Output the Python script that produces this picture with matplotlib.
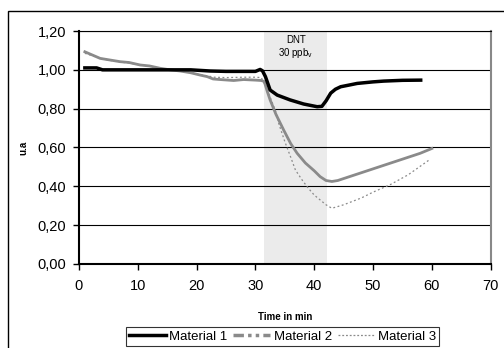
import numpy as np
import matplotlib.pyplot as plt
from matplotlib.patches import Rectangle
from matplotlib.lines import Line2D
from matplotlib.ticker import FuncFormatter

plt.rcParams['font.family'] = ['Liberation Sans', 'DejaVu Sans']

# Daten
t1 = [1, 2, 3, 4, 6, 10, 15, 19, 22.3, 25, 28, 30, 30.8, 31.2, 31.7, 32.5, 33.7,
      35.9, 38.2, 40.5, 41.3, 42.0, 42.8, 43.6, 44.5, 46, 47.3, 50, 51.8, 55, 58.1]
m1 = [1.01, 1.01, 1.01, 1.00, 1.00, 1.00, 1.00, 1.00, 0.994, 0.992, 0.992, 0.992,
      1.002, 0.995, 0.965, 0.896, 0.87, 0.845, 0.824, 0.81, 0.812, 0.84, 0.88,
      0.90, 0.913, 0.922, 0.93, 0.938, 0.942, 0.946, 0.947]

t2 = [1, 3.6, 5, 7, 8.5, 10.4, 12, 13.8, 15.5, 17.2, 19, 20.6, 21.8, 22.8, 24,
      26.3, 28, 30, 31, 31.5, 32, 32.5, 33.5, 34.8, 36, 37.1, 38.5, 40, 41, 42, 43,
      44, 46, 48, 50, 52, 55, 58, 60]
m2 = [1.093, 1.059, 1.052, 1.042, 1.038, 1.025, 1.02, 1.008, 1.0, 0.994, 0.985,
      0.973, 0.965, 0.953, 0.95, 0.945, 0.95, 0.947, 0.945, 0.94, 0.89, 0.845,
      0.77, 0.69, 0.62, 0.57, 0.52, 0.48, 0.45, 0.43, 0.425, 0.43, 0.45, 0.47,
      0.49, 0.51, 0.54, 0.57, 0.595]

t3 = [1, 3.6, 5, 7, 8.5, 10.4, 12, 13.8, 15.5, 17.2, 19, 20.6, 22, 23, 25, 28,
      30, 31, 31.5, 32, 33, 33.4, 34, 35, 36, 36.8, 38, 39, 40, 41, 42, 43, 45,
      48, 50, 53, 56, 59.5]
m3 = [1.085, 1.06, 1.05, 1.04, 1.035, 1.025, 1.018, 1.008, 1.0, 0.994, 0.985,
      0.975, 0.968, 0.962, 0.96, 0.962, 0.962, 0.96, 0.93, 0.9, 0.82, 0.79,
      0.72, 0.63, 0.55, 0.484, 0.43, 0.39, 0.355, 0.33, 0.305, 0.287, 0.305,
      0.34, 0.37, 0.41, 0.46, 0.535]

dnt_start, dnt_end = 31.5, 42.2

fig = plt.figure(figsize=(5.04, 3.48), dpi=100)
ax = fig.add_axes([0.1567, 0.2414, 0.8169, 0.6695])

# Aeusserer Rahmen
fig.add_artist(Rectangle((8 / 504, -0.1), 1.2, 1.1 - 11 / 348,
                         transform=fig.transFigure, fill=False,
                         edgecolor='black', linewidth=1.0))

# DNT-Bereich
ax.axvspan(dnt_start, dnt_end, color='#ebebeb', zorder=0, lw=0)
ax.text((dnt_start + dnt_end) / 2, 1.153, 'DNT', ha='center', va='center', fontsize=7)
ax.text((dnt_start + dnt_end) / 2, 1.087, '30 ppb$_\\mathregular{v}$',
        ha='center', va='center', fontsize=7)

# Gitterlinien
for yv in np.arange(0.2, 1.21, 0.2):
    ax.axhline(yv, color='black', lw=0.8, zorder=1)

ax.plot(t1, m1, color='black', lw=2.5, label='Material 1', zorder=4)
ax.plot(t2, m2, color='#8a8a8a', lw=2.0, label='Material 2', zorder=3)
ax.plot(t3, m3, color='#8a8a8a', lw=0.9, ls=(0, (1.5, 2)), label='Material 3', zorder=3)

ax.set_xlim(0, 70)
ax.set_ylim(0, 1.2)
ax.set_xticks(range(0, 71, 10))
ax.set_yticks(np.arange(0, 1.21, 0.2))
ax.yaxis.set_major_formatter(FuncFormatter(lambda v, p: f'{v:.2f}'.replace('.', ',')))
ax.tick_params(axis='both', labelsize=10.5, length=4, width=1, direction='out')
ax.tick_params(axis='x', pad=7)
ax.tick_params(axis='y', pad=5)

ax.spines['left'].set_linewidth(1.5)
ax.spines['bottom'].set_linewidth(1.5)
ax.spines['right'].set_color('#888888')
ax.spines['right'].set_linewidth(1.5)
ax.spines['top'].set_linewidth(0.8)

ax.set_xlabel('Time in min', fontsize=7, fontweight='bold')
ax.xaxis.set_label_coords(0.5, -0.205)
ax.set_ylabel('u.a', fontsize=7, fontweight='bold')
ax.yaxis.set_label_coords(-0.122, 0.5)

# Legende
handles = [Line2D([], [], color='black', lw=2.5),
           Line2D([], [], color='#8a8a8a', lw=2.5, dashes=(3, 1.2, 1, 1.2, 1, 1.2)),
           Line2D([], [], color='#8a8a8a', lw=0.9, ls=(0, (1.5, 1.5)))]
leg = fig.legend(handles, ['Material 1', 'Material 2', 'Material 3'],
                 loc='upper center', bbox_to_anchor=(0.5605, 0.0603), ncol=3,
                 fontsize=9.5, frameon=True, fancybox=False, edgecolor='black',
                 handlelength=2.8, handletextpad=0.25, columnspacing=0.45,
                 borderpad=0.25, borderaxespad=0)
leg.get_frame().set_linewidth(0.8)

fig.savefig('out.png', dpi=100)
